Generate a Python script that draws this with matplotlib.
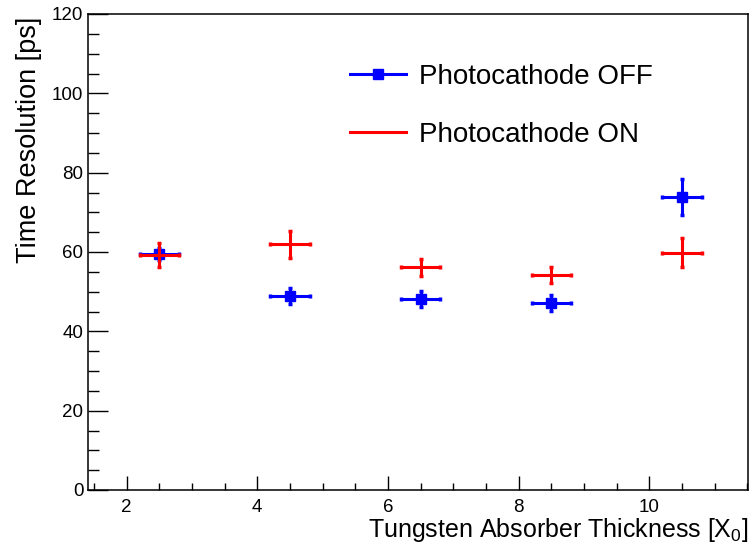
import matplotlib
matplotlib.use("Agg")
import matplotlib.pyplot as plt
from matplotlib.lines import Line2D
from matplotlib.ticker import MultipleLocator

# Data
thickness = [2.5, 4.5, 6.5, 8.5, 10.5]
thickness_err = [0.3, 0.3, 0.3, 0.3, 0.3]
res_off = [59.6, 48.9, 48.1, 47.1, 73.8]
res_off_err = [1.5, 2.0, 2.0, 2.0, 4.5]
res_on = [59.2, 61.9, 56.1, 54.2, 59.8]
res_on_err = [3.0, 3.3, 2.2, 2.0, 3.7]

plt.rcParams['font.family'] = ['Liberation Sans', 'DejaVu Sans']
plt.rcParams['mathtext.fontset'] = 'custom'
plt.rcParams['mathtext.rm'] = 'Liberation Sans'
plt.rcParams['mathtext.it'] = 'Liberation Sans'

fig = plt.figure(figsize=(7.52, 5.5), dpi=100)
ax = fig.add_axes([88 / 752, 1 - 490 / 550, 660 / 752, 476 / 550])

# Photocathode ON (red crosses, no marker)
ax.errorbar(thickness, res_on, xerr=thickness_err, yerr=res_on_err,
            fmt='none', ecolor='#ff0000', elinewidth=2.2,
            capsize=1.5, capthick=2.5, zorder=3)
# Photocathode OFF (blue squares)
ax.errorbar(thickness, res_off, xerr=thickness_err, yerr=res_off_err,
            fmt='s', color='#0000ff', markersize=7.5, elinewidth=2.2,
            capsize=1.5, capthick=2.5, zorder=2)

ax.set_xlim(1.41, 11.51)
ax.set_ylim(0, 120)
ax.xaxis.set_major_locator(MultipleLocator(2))
ax.xaxis.set_minor_locator(MultipleLocator(0.5))
ax.yaxis.set_major_locator(MultipleLocator(20))
ax.yaxis.set_minor_locator(MultipleLocator(5))
ax.tick_params(which='both', direction='in', top=False, right=False,
               width=1.0, labelsize=13.5)
ax.tick_params(axis='y', which='major', length=14.4, pad=3.3)
ax.tick_params(axis='y', which='minor', length=8)
ax.tick_params(axis='x', which='major', length=10, pad=6.5)
ax.tick_params(axis='x', which='minor', length=5)
for spine in ax.spines.values():
    spine.set_linewidth(1.1)

ax.set_ylabel('Time Resolution [ps]', fontsize=19.5, loc='top')
ax.yaxis.set_label_coords(-0.070, 0.995)
ax.set_xlabel('Tungsten Absorber Thickness [X$_0$]', fontsize=18, loc='right')
ax.xaxis.set_label_coords(1.0, -0.055)

handles = [
    Line2D([], [], color='#0000ff', lw=2.2, marker='s', markersize=7.5),
    Line2D([], [], color='#ff0000', lw=2.2),
]
fig.legend(handles, ['Photocathode OFF', 'Photocathode ON'],
           loc='upper left', bbox_to_anchor=(350 / 752, 1 - 64 / 550),
           frameon=False, fontsize=20, handlelength=2.0,
           handletextpad=0.5, labelspacing=1.14, borderpad=0,
           borderaxespad=0)

fig.savefig('out.png', dpi=100)
